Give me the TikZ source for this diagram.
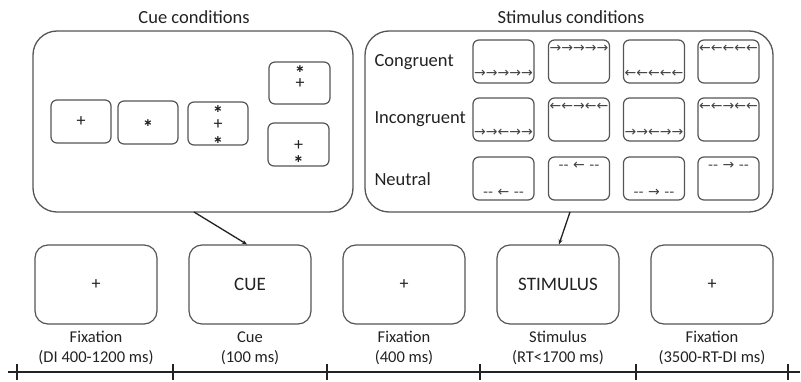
\documentclass[tikz,border=0pt]{standalone}
\usepackage{fontspec}
\setmainfont{Carlito}
\newfontfamily\arrfont{DejaVu Sans}
\usetikzlibrary{arrows.meta}
\definecolor{bordergray}{HTML}{555555}
\definecolor{txtgray}{HTML}{222222}
\begin{document}
\begin{tikzpicture}[x=1pt,y=-1pt,
  bigbox/.style={draw=bordergray, line width=1.3pt, rounded corners=24pt, inner sep=0pt},
  scr/.style={draw=bordergray, line width=1.2pt, rounded corners=6pt, inner sep=0pt, minimum width=61pt, minimum height=43pt},
  mainscr/.style={draw=bordergray, line width=1.2pt, rounded corners=13pt, inner sep=0pt, minimum width=122pt, minimum height=79pt, font=\fontsize{19}{21}\selectfont, text=txtgray},
  titlelab/.style={font=\fontsize{18.5}{20}\selectfont, text=txtgray},
  rowlab/.style={font=\fontsize{18.5}{20}\selectfont, text=txtgray, anchor=west},
  caplab/.style={font=\fontsize{16.5}{20}\selectfont, text=txtgray, align=center},
  sym/.style={font=\fontsize{18}{18}\selectfont, text=txtgray, inner sep=0pt},
  star/.style={font=\arrfont\bfseries\fontsize{11}{11}\selectfont, text=txtgray, inner sep=0pt},
  arrlab/.style={font=\arrfont\fontsize{14}{14}\selectfont, text=txtgray!85, inner sep=0pt},
  conn/.style={line width=1.3pt, draw=txtgray, -{Stealth[length=5pt,width=4pt]}},
  tickline/.style={line width=1.3pt, draw=txtgray}
]
\useasboundingbox (0,0) rectangle (801,382);

% titles
\node[titlelab] (cuetitle) at (194,17) {Cue conditions};
\node[titlelab] (stimtitle) at (571,17) {Stimulus conditions};

% big boxes
\node[bigbox, minimum width=320pt, minimum height=181pt] (cuebox) at (193,121.5) {};
\node[bigbox, minimum width=408pt, minimum height=181pt] (stimbox) at (569,121.5) {};

% cue boxes
\node[scr, minimum width=60pt] (c1) at (81,121.5) {};
\node[scr, minimum width=60pt] (c2) at (148,122.5) {};
\node[scr, minimum width=60pt] (c3) at (218,123.5) {};
\node[scr, minimum height=42pt] (c4) at (299.5,83) {};
\node[scr] (c5) at (298.5,144.5) {};
\node[sym] (c1p) at (c1) {+};
\node[star] (c2s) at ([yshift=-1pt]c2.center) {∗};
\node[star] (c3a) at (218,109.5) {∗};
\node[sym] (c3p) at (218,124.5) {+};
\node[star] (c3b) at (218,140) {∗};
\node[star] (c4a) at (300,69) {∗};
\node[sym] (c4p) at (300,83.5) {+};
\node[sym] (c5p) at (298.5,145.5) {+};
\node[star] (c5a) at (298.5,159) {∗};

% stimulus boxes
\foreach \r/\y in {1/61.5,2/119.5,3/178.5}{
  \foreach \c/\x in {1/503.5,2/579,3/654,4/728.5}{
    \node[scr] (s\r\c) at (\x,\y) {};
  }
}
\node[rowlab] (lcon) at (371,62) {Congruent};
\node[rowlab] (linc) at (371,119) {Incongruent};
\node[rowlab] (lneu) at (371,179) {Neutral};

% row 1
\node[arrlab] (a11) at ([yshift=10pt]s11.south) {→→→→→};
\node[arrlab] (a12) at ([yshift=-9pt]s12.north) {→→→→→};
\node[arrlab] (a13) at ([yshift=10pt]s13.south) {←←←←←};
\node[arrlab] (a14) at ([yshift=-9pt]s14.north) {←←←←←};
% row 2
\node[arrlab] (a21) at ([yshift=9pt]s21.south) {→→←→→};
\node[arrlab] (a22) at ([yshift=-9pt]s22.north) {←←→←←};
\node[arrlab] (a23) at ([yshift=9pt]s23.south) {→→←→→};
\node[arrlab] (a24) at ([yshift=-9pt]s24.north) {←←→←←};
% row 3
\node[arrlab] (a31) at ([yshift=8pt]s31.south) {-{}- ← -{}-};
\node[arrlab] (a32) at ([yshift=-9pt]s32.north) {-{}- ← -{}-};
\node[arrlab] (a33) at ([yshift=8pt]s33.south) {-{}- → -{}-};
\node[arrlab] (a34) at ([yshift=-9pt]s34.north) {-{}- → -{}-};

% main sequence
\node[mainscr] (m1) at (96,284.5) {\fontsize{18}{18}\selectfont +};
\node[mainscr] (m2) at (250,284.5) {CUE};
\node[mainscr] (m3) at (404,284.5) {\fontsize{18}{18}\selectfont +};
\node[mainscr] (m4) at (558,284.5) {STIMULUS};
\node[mainscr] (m5) at (712,284.5) {\fontsize{18}{18}\selectfont +};

\node[caplab] (l1) at (96,348) {Fixation\\(DI 400-1200 ms)};
\node[caplab] (l2) at (250,348) {Cue\\(100 ms)};
\node[caplab] (l3) at (404,348) {Fixation\\(400 ms)};
\node[caplab] (l4) at (558,348) {Stimulus\\(RT<1700 ms)};
\node[caplab] (l5) at (712,348) {Fixation\\(3500-RT-DI ms)};

% connectors
\coordinate (cuefrom) at (194,212);
\coordinate (stimfrom) at (570,212);
\draw[conn] (cuefrom) -- (m2.north -| 247,0);
\draw[conn] (stimfrom) -- (m4.north -| 559,0);

% timeline
\coordinate (tlstart) at (8,372);
\coordinate (tlend) at (800,372);
\draw[tickline] (tlstart) -- (tlend);
\foreach \x in {17,173,327,480,636,788}{
  \draw[tickline] (\x,364) -- (\x,380);
}
\end{tikzpicture}
\end{document}
